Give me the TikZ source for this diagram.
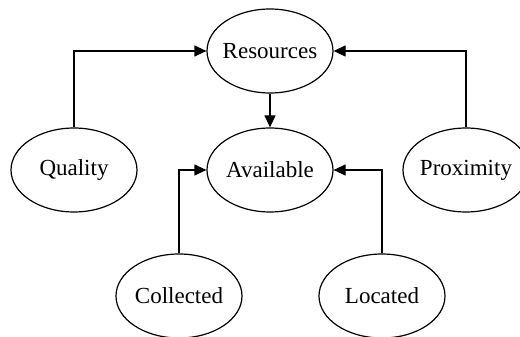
\documentclass[tikz,border=0pt]{standalone}
\usepackage{fontspec}
\setmainfont{Liberation Serif}
\usetikzlibrary{arrows.meta,shapes.geometric}
% label set in a zero-width box so every ellipse keeps the same size
\newcommand{\conceptlabel}[1]{\makebox[0pt]{#1}}
\begin{document}
\begin{tikzpicture}[x=1pt,y=-1pt,
  concept/.style={draw, line width=1.2pt, ellipse, minimum width=126pt, minimum height=84pt,
    inner sep=0pt, font=\fontsize{23}{27}\selectfont},
  link/.style={line width=1.2pt, -{Triangle[length=12pt,width=11pt]}}]
  \useasboundingbox (0,0) rectangle (520,337);
  \begin{scope}
    \clip (0,0) rectangle (520,337);
    \node[concept] (res) at (270,51) {\conceptlabel{Resources}};
    \node[concept] (avail) at (270,170) {\conceptlabel{Available}};
    \node[concept] (qual) at (74,170) {\conceptlabel{Quality}};
    \node[concept] (prox) at (466,170) {\conceptlabel{Proximity}};
    \node[concept] (coll) at (179,296) {\conceptlabel{Collected}};
    \node[concept] (loc) at (382,296) {\conceptlabel{Located}};
  \end{scope}
  \draw[link] (qual.north) |- (res.west);
  \draw[link] (prox.north) |- (res.east);
  \draw[link] (res.south) -- (avail.north);
  \draw[link] (coll.north) |- (avail.west);
  \draw[link] (loc.north) |- (avail.east);
\end{tikzpicture}
\end{document}
